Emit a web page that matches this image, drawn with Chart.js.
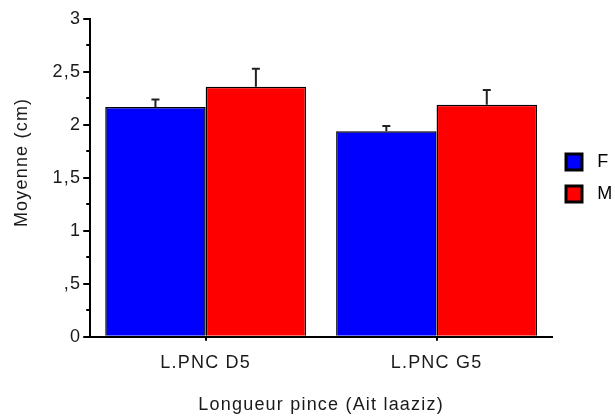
<!DOCTYPE html>
<html>
<head>
<meta charset="utf-8">
<script src="https://cdn.jsdelivr.net/npm/chart.js@4/dist/chart.umd.min.js"></script>
<style>
  html, body { margin: 0; padding: 0; background: #fff; }
  #wrap { width: 615px; height: 416px; position: relative; }
</style>
</head>
<body>
<div id="wrap"><canvas id="chart"></canvas></div>
<script>
// values
const categories = ['L.PNC D5', 'L.PNC G5'];
const seriesF = [2.17, 1.94];
const seriesM = [2.36, 2.19];
const errF = [0.07, 0.05];
const errM = [0.17, 0.14];
const yTickLabels = ['0', ',5', '1', '1,5', '2', '2,5', '3'];

const LETTER_SPACING = '1.2px';
const FONT = "'Liberation Sans', Arial, sans-serif";

Chart.defaults.font.family = FONT;
Chart.defaults.font.size = 18;
Chart.defaults.color = '#1a1a1a';

// the reference text is spaced out a bit wider than plain Arial
const spacingPlugin = {
    id: 'spacing',
    beforeLayout(chart) { chart.ctx.letterSpacing = LETTER_SPACING; },
    beforeDraw(chart) { chart.ctx.letterSpacing = LETTER_SPACING; }
};

// upper error bars only
const errorBars = {
    id: 'errorBars',
    afterDatasetsDraw(chart) {
        const { ctx, scales: { y } } = chart;
        const errs = [errF, errM];
        ctx.save();
        ctx.strokeStyle = '#222';
        ctx.lineWidth = 2;
        chart.data.datasets.forEach((ds, di) => {
            const meta = chart.getDatasetMeta(di);
            meta.data.forEach((bar, i) => {
                const top = y.getPixelForValue(ds.data[i] + errs[di][i]);
                ctx.beginPath();
                ctx.moveTo(bar.x, bar.y);
                ctx.lineTo(bar.x, top);
                ctx.moveTo(bar.x - 4, top);
                ctx.lineTo(bar.x + 4, top);
                ctx.stroke();
            });
        });
        ctx.restore();
    }
};

// short minor ticks between the labelled ones
const minorTicks = {
    id: 'minorTicks',
    afterDraw(chart) {
        const { ctx, scales: { y } } = chart;
        ctx.save();
        ctx.strokeStyle = '#000';
        ctx.lineWidth = 2;
        for (let v = 0.25; v < 3; v += 0.5) {
            const py = Math.round(y.getPixelForValue(v));
            ctx.beginPath();
            ctx.moveTo(y.right - 4, py);
            ctx.lineTo(y.right, py);
            ctx.stroke();
        }
        ctx.restore();
    }
};

const ctx = document.getElementById('chart').getContext('2d');
new Chart(ctx, {
    type: 'bar',
    data: {
        labels: categories,
        datasets: [
            { label: 'F', data: seriesF, backgroundColor: '#0000ff', borderColor: '#000', borderWidth: 1.5 },
            { label: 'M', data: seriesM, backgroundColor: '#ff0000', borderColor: '#000', borderWidth: 1.5 }
        ]
    },
    options: {
        responsive: true,
        maintainAspectRatio: false,
        animation: false,
        layout: { padding: { top: 19, right: 0, bottom: 0, left: 0 } },
        datasets: {
            bar: { barPercentage: 1, categoryPercentage: 0.87 }
        },
        scales: {
            x: {
                grid: { display: true, drawOnChartArea: false, offset: false, tickLength: 4, color: '#000', lineWidth: 2 },
                border: { color: '#000', width: 2 },
                ticks: { padding: 11, color: '#1a1a1a' },
                title: { display: true, text: 'Longueur pince (Ait laaziz)', padding: { top: 10, bottom: 0 }, color: '#1a1a1a' }
            },
            y: {
                min: 0,
                max: 3,
                grid: { drawOnChartArea: false, tickLength: 7, color: '#000', lineWidth: 2 },
                border: { color: '#000', width: 2 },
                ticks: {
                    stepSize: 0.5,
                    padding: 2,
                    color: '#1a1a1a',
                    callback: (v) => yTickLabels[Math.round(v * 2)]
                },
                title: { display: true, text: '     Moyenne (cm)', padding: { top: 11, bottom: 18 }, color: '#1a1a1a' }
            }
        },
        plugins: {
            tooltip: { enabled: false },
            legend: {
                position: 'right',
                fullSize: false,
                maxWidth: 63,
                labels: {
                    boxWidth: 16,
                    boxHeight: 16,
                    padding: 14,
                    color: '#1a1a1a',
                    generateLabels(chart) {
                        return chart.data.datasets.map((ds, i) => ({
                            text: ' ' + ds.label,
                            fillStyle: ds.backgroundColor,
                            strokeStyle: '#000',
                            lineWidth: 3,
                            datasetIndex: i,
                            hidden: false
                        }));
                    }
                }
            }
        }
    },
    plugins: [spacingPlugin, errorBars, minorTicks]
});
</script>
</body>
</html>
